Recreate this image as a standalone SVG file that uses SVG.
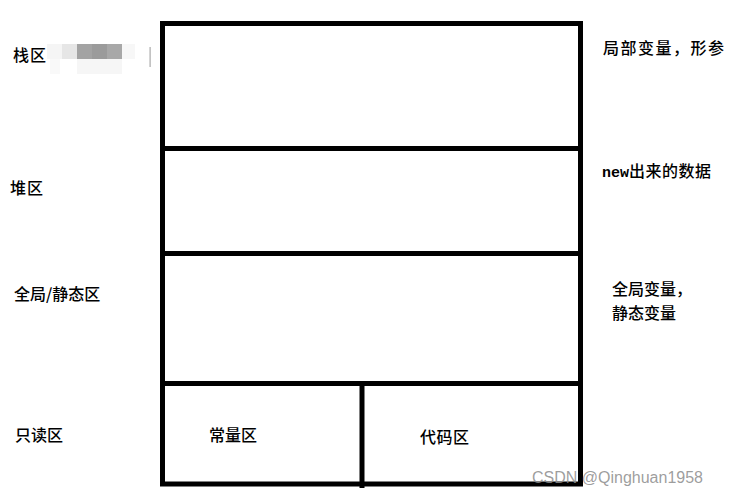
<svg xmlns="http://www.w3.org/2000/svg" width="731" height="497" viewBox="0 0 731 497">
<style>
.t{font-family:"Noto Sans CJK SC","Noto Sans",sans-serif;font-size:16px;fill:#000;font-weight:500}
.m{font-family:"Liberation Mono","DejaVu Sans Mono",monospace;font-size:15px;font-weight:bold;fill:#000}
.ln{stroke:#000;stroke-width:5;fill:none;stroke-linecap:square}
.wm{font-family:"Liberation Sans","Noto Sans",sans-serif;font-size:16px;fill:#8c8c8c;fill-opacity:0.85}
</style>
<rect width="731" height="497" fill="#fff"/>
<g id="frame">
<rect class="ln" x="162.5" y="23.5" width="418" height="460.5"/>
<line class="ln" x1="162.5" y1="148.5" x2="578" y2="148.5"/>
<line class="ln" x1="162.5" y1="253.5" x2="578" y2="253.5"/>
<line class="ln" x1="162.5" y1="383.5" x2="580.5" y2="383.5"/>
<line class="ln" x1="362" y1="383.5" x2="362" y2="485.5"/>
</g>
<g id="stack">
<text class="t" x="13" y="61" letter-spacing="1">栈区</text>
<g id="blur">
<rect x="47" y="44" width="15" height="15" fill="#f5f5f5"/>
<rect x="62" y="44" width="15" height="15" fill="#e6e6e6"/>
<rect x="77" y="44" width="15" height="15" fill="#a3a3a3"/>
<rect x="92" y="44" width="15" height="15" fill="#9b9b9b"/>
<rect x="107" y="44" width="15" height="15" fill="#a8a8a8"/>
<rect x="122" y="44" width="13" height="15" fill="#f7f7f7"/>
<rect x="50" y="59" width="10" height="15" fill="#f9f9f9"/>
<rect x="77" y="59" width="45" height="15" fill="#f6f6f6"/>
<rect x="149.5" y="47" width="1.2" height="20" fill="#aaa"/>
</g>
<text class="t" x="603" y="54" letter-spacing="1.5">局部变量，形参</text>
</g>
<g id="heap">
<text class="t" x="10" y="194" letter-spacing="1">堆区</text>
<text x="602" y="177"><tspan class="m">new</tspan><tspan class="t" letter-spacing="0.5">出来的数据</tspan></text>
</g>
<g id="global">
<text class="t" x="14" y="300">全局/静态区</text>
<text class="t" x="612" y="295">全局变量，</text>
<text class="t" x="612" y="319">静态变量</text>
</g>
<g id="readonly">
<text class="t" x="15" y="441">只读区</text>
</g>
<g id="const">
<text class="t" x="209" y="441">常量区</text>
</g>
<g id="code">
<text class="t" x="420" y="443" letter-spacing="0.5">代码区</text>
</g>
<text class="wm" x="532" y="483">CSDN @Qinghuan1958</text>
</svg>
